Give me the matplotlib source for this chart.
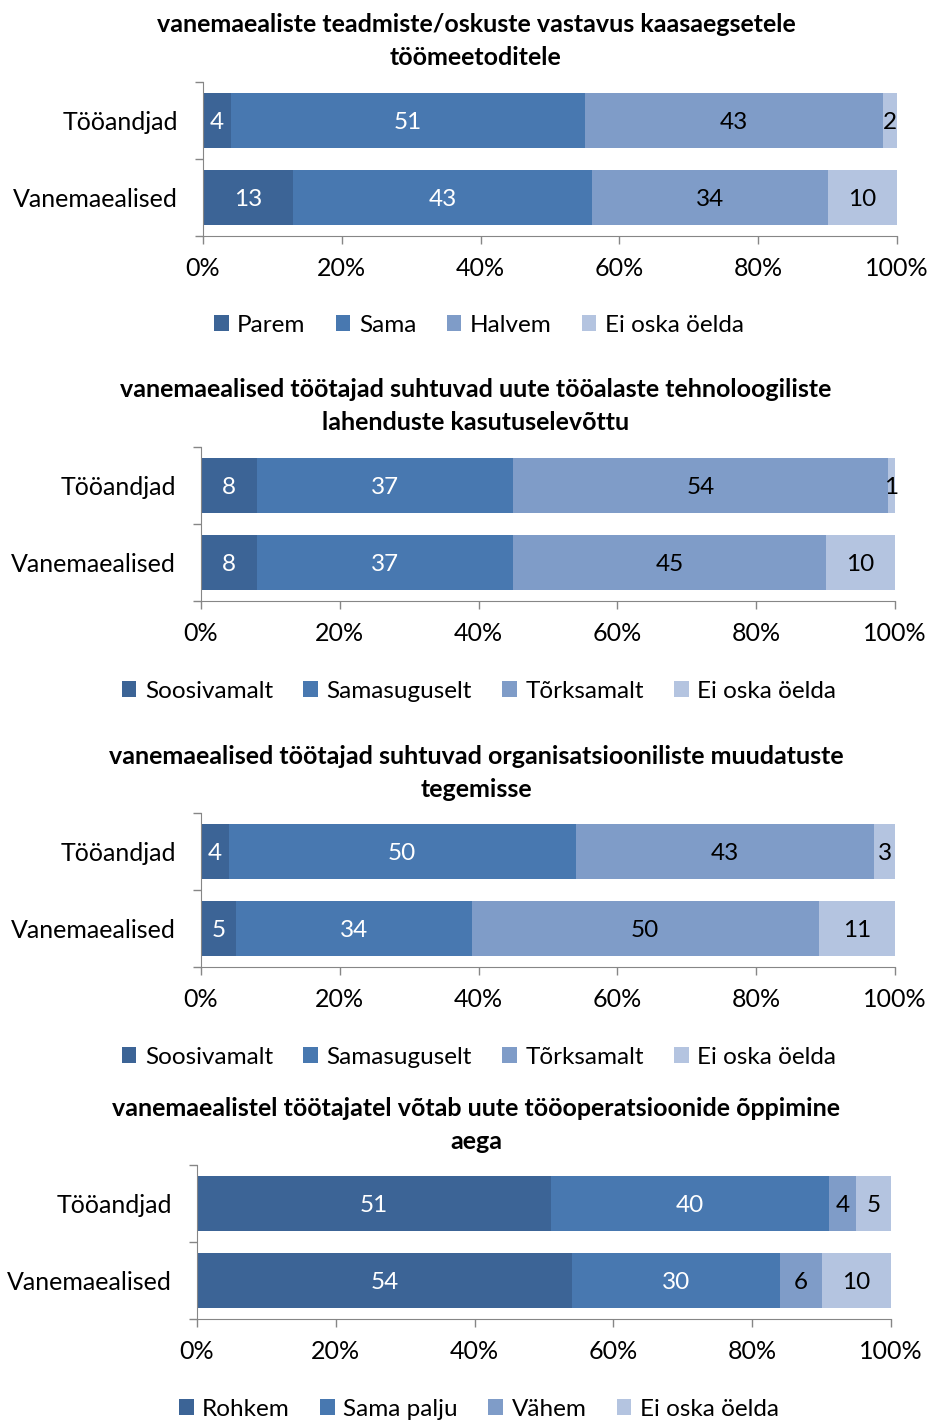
import numpy as np
import matplotlib.pyplot as plt
from matplotlib.ticker import FuncFormatter

plt.rcParams['font.family'] = ['Lato', 'DejaVu Sans']

W, H = 929, 1421
colors = ['#3c6496', '#4878b0', '#7f9cc8', '#b4c4e0']
text_colors = ['white', 'white', 'black', 'black']
groups = ['Tööandjad', 'Vanemaealised']

titles = [
    'vanemaealiste teadmiste/oskuste vastavus kaasaegsetele\ntöömeetoditele',
    'vanemaealised töötajad suhtuvad uute tööalaste tehnoloogiliste\nlahenduste kasutuselevõttu',
    'vanemaealised töötajad suhtuvad organisatsiooniliste muudatuste\ntegemisse',
    'vanemaealistel töötajatel võtab uute tööoperatsioonide õppimine\naega',
]
legend_labels = [
    ['Parem', 'Sama', 'Halvem', 'Ei oska öelda'],
    ['Soosivamalt', 'Samasuguselt', 'Tõrksamalt', 'Ei oska öelda'],
    ['Soosivamalt', 'Samasuguselt', 'Tõrksamalt', 'Ei oska öelda'],
    ['Rohkem', 'Sama palju', 'Vähem', 'Ei oska öelda'],
]
tooandjad = [[4, 51, 43, 2], [8, 37, 54, 1], [4, 50, 43, 3], [51, 40, 4, 5]]
vanemaealised = [[13, 43, 34, 10], [8, 37, 45, 10], [5, 34, 50, 11], [54, 30, 6, 10]]

# pixel layout of each panel: axes left, right, top, bottom, title y, legend y
layout = [
    (203, 897, 82, 236, 41, 325),
    (201, 895, 447, 601, 406, 691),
    (201, 895, 813, 967, 773, 1057),
    (197, 891, 1165, 1319, 1125, 1409),
]

fig = plt.figure(figsize=(W / 100, H / 100), dpi=100)

for i in range(4):
    l, r, t, b, ty, ly = layout[i]
    ax = fig.add_axes([l / W, 1 - b / H, (r - l) / W, (b - t) / H])
    data = np.array([tooandjad[i], vanemaealised[i]])
    left = np.zeros(2)
    handles = []
    for k in range(4):
        bars = ax.barh([0, 1], data[:, k], left=left, height=0.71,
                       color=colors[k], label=legend_labels[i][k])
        handles.append(bars)
        for j in range(2):
            ax.text(left[j] + data[j, k] / 2, j + 0.02, str(data[j, k]),
                    ha='center', va='center', fontsize=17.5, color=text_colors[k])
        left += data[:, k]
    ax.set_xlim(0, 100)
    ax.set_ylim(1.5, -0.5)
    ax.set_xticks(np.arange(0, 101, 20))
    ax.xaxis.set_major_formatter(FuncFormatter(lambda v, p: f'{v:.0f}%'))
    ax.set_yticks([0, 1])
    ax.set_yticklabels(groups)
    ax.set_yticks([-0.5, 0.5, 1.5], minor=True)
    ax.tick_params(axis='y', which='major', length=0, pad=18, labelsize=18)
    ax.tick_params(axis='y', which='minor', length=6, color='#868686', width=1)
    ax.tick_params(axis='x', length=6, color='#868686', width=1, labelsize=18, pad=9)
    for s in ['top', 'right']:
        ax.spines[s].set_visible(False)
    for s in ['left', 'bottom']:
        ax.spines[s].set_color('#868686')
    fig.text(476 / W, 1 - ty / H, titles[i], ha='center', va='center',
             fontsize=18, fontweight='bold', linespacing=1.5)
    fig.legend(handles=handles, loc='center', bbox_to_anchor=(479 / W, 1 - ly / H),
               ncol=4, frameon=False, fontsize=17.5, handlelength=0.6, handleheight=0.6,
               handletextpad=0.35, columnspacing=1.25)

fig.savefig('out.png', dpi=100)
